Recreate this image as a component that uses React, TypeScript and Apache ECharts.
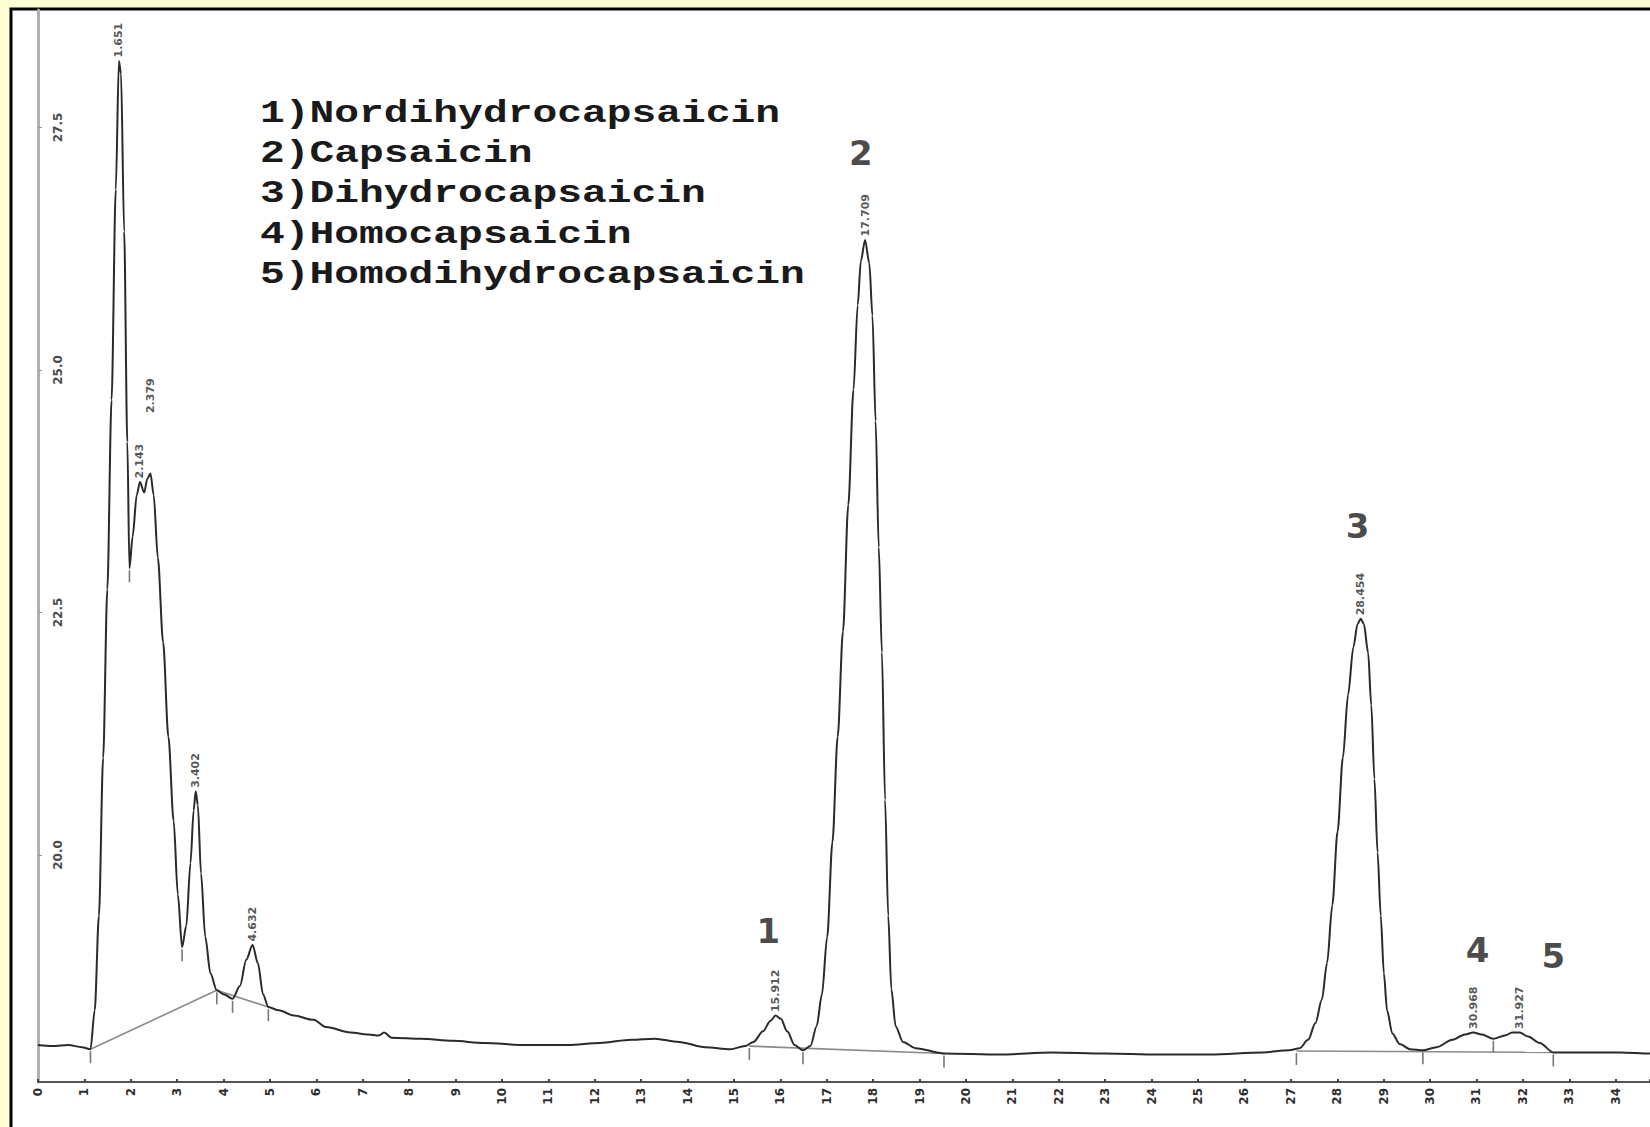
import React, { useEffect, useRef } from "react";
import * as echarts from "echarts";

// Chromatogram trace: retention time (min) and detector signal
const traceTimes = [
  0.0, 0.315, 0.655, 0.95, 1.131, 1.222, 1.313, 1.404, 1.494, 1.585, 1.676, 1.744, 1.789, 1.857, 1.925, 1.971,
  2.039, 2.129, 2.197, 2.288, 2.356, 2.424, 2.492, 2.583, 2.696, 2.81, 2.923, 3.014, 3.105, 3.195, 3.286, 3.354,
  3.399, 3.445, 3.513, 3.604, 3.717, 3.853, 4.012, 4.193, 4.352, 4.488, 4.624, 4.738, 4.851, 4.964, 5.191, 5.509,
  5.94, 6.212, 6.733, 7.119, 7.346, 7.459, 7.618, 8.253, 8.933, 9.614, 10.521, 11.428, 12.109, 12.789, 13.288,
  13.81, 14.377, 14.921, 15.238, 15.42, 15.624, 15.783, 15.896, 16.01, 16.146, 16.305, 16.486, 16.645, 16.781,
  16.894, 17.008, 17.121, 17.234, 17.348, 17.462, 17.575, 17.665, 17.733, 17.824, 17.915, 17.983, 18.051, 18.119,
  18.187, 18.255, 18.323, 18.391, 18.482, 18.64, 18.913, 19.525, 20.727, 21.861, 22.995, 24.129, 25.263, 26.397,
  26.964, 27.191, 27.372, 27.531, 27.667, 27.781, 27.894, 28.007, 28.121, 28.234, 28.347, 28.438, 28.506, 28.574,
  28.665, 28.733, 28.801, 28.869, 28.937, 29.005, 29.073, 29.187, 29.345, 29.572, 29.845, 30.139, 30.479, 30.753,
  30.933, 31.114, 31.364, 31.613, 31.772, 31.93, 32.112, 32.362, 32.656, 33.314, 34.108, 34.743, 35.2,
];
const traceSignal = [
  18.041, 18.03, 18.041, 18.019, 17.998, 18.399, 19.375, 21.003, 22.739, 24.691, 26.861, 28.185, 28.055, 26.427,
  24.257, 22.956, 23.281, 23.715, 23.845, 23.737, 23.878, 23.932, 23.715, 23.064, 22.196, 21.22, 20.352, 19.592,
  19.05, 19.267, 19.918, 20.46, 20.656, 20.515, 19.809, 19.158, 18.779, 18.605, 18.562, 18.518, 18.649, 18.92,
  19.072, 18.887, 18.562, 18.432, 18.399, 18.345, 18.301, 18.226, 18.171, 18.15, 18.139, 18.171, 18.117, 18.106,
  18.084, 18.063, 18.041, 18.041, 18.063, 18.095, 18.106, 18.073, 18.019, 17.998, 18.03, 18.073, 18.182, 18.29,
  18.345, 18.312, 18.182, 18.041, 17.987, 18.03, 18.236, 18.562, 19.158, 20.135, 21.22, 22.305, 23.607, 24.8,
  25.668, 26.124, 26.34, 26.102, 25.559, 24.474, 23.172, 22.087, 20.569, 19.375, 18.616, 18.236, 18.073, 18.009,
  17.954, 17.943, 17.965, 17.954, 17.943, 17.943, 17.965, 17.987, 18.009, 18.095, 18.269, 18.507, 18.887, 19.484,
  20.243, 21.003, 21.654, 22.142, 22.381, 22.435, 22.381, 22.087, 21.545, 20.786, 20.026, 19.375, 18.779, 18.399,
  18.16, 18.052, 17.998, 17.987, 18.019, 18.095, 18.15, 18.171, 18.15, 18.106, 18.139, 18.171, 18.171, 18.128,
  18.063, 17.965, 17.965, 17.965, 17.954, 17.943,
];

// Retention-time labels at peak apexes
const peakTimes = [1.744, 2.197, 2.424, 3.399, 4.624, 15.896, 17.824, 28.506, 30.933, 31.93];
const peakSignal = [28.185, 23.845, 23.932, 20.656, 19.072, 18.345, 26.34, 22.435, 18.171, 18.171];
const peakLabels = ["1.651", "2.143", "2.379", "3.402", "4.632", "15.912", "17.709", "28.454", "30.968", "31.927"];

// Compound numbers above peaks
const compoundNumbers = ["1", "2", "3", "4", "5"];
const compoundTimes = [15.737, 17.733, 28.438, 31.024, 32.656];
const compoundSignal = [19.213, 27.24, 23.39, 19.017, 18.963];

// Legend lines
const compoundNames = [
  "1)Nordihydrocapsaicin",
  "2)Capsaicin",
  "3)Dihydrocapsaicin",
  "4)Homocapsaicin",
  "5)Homodihydrocapsaicin",
];

// Integration event marks
const eventTimes = [1.131, 1.971, 3.105, 3.853, 4.193, 4.964, 15.33, 16.486, 19.525, 27.12, 29.845, 31.364, 32.656];
const eventSignal = [17.998, 22.956, 19.05, 18.605, 18.518, 18.432, 18.03, 17.987, 17.954, 17.98, 17.987, 18.106, 17.965];

// Integration baselines (start/end time and signal)
const baselineStartTimes = [1.131, 3.853, 15.33, 27.12];
const baselineStartSignal = [17.998, 18.605, 18.03, 17.98];
const baselineEndTimes = [3.853, 4.964, 19.525, 32.656];
const baselineEndSignal = [18.605, 18.432, 17.954, 17.965];

// Axes
const xMin = 0;
const xMax = 34.74;
const yMin = 17.66;
const yMax = 28.711;
const yTickValues = [20, 22.5, 25, 27.5];

export default function App() {
  const ref = useRef<HTMLDivElement>(null);

  useEffect(() => {
    if (!ref.current) return;
    const chart = echarts.init(ref.current, undefined, { renderer: "svg" });

    const trace = traceTimes.map((t, i) => [t, traceSignal[i]]);
    const peaks = peakTimes.map((t, i) => ({
      name: peakLabels[i],
      value: [t, peakSignal[i]],
      label: peakLabels[i] === "2.379" ? { distance: 60 } : undefined,
    }));
    const numbers = compoundNumbers.map((n, i) => ({ name: n, value: [compoundTimes[i], compoundSignal[i]] }));
    const events = eventTimes.map((t, i) => [t, eventSignal[i]]);

    const baselineSeries = baselineStartTimes.map((t, i) => ({
      type: "line",
      data: [
        [t, baselineStartSignal[i]],
        [baselineEndTimes[i], baselineEndSignal[i]],
      ],
      symbol: "none",
      lineStyle: { color: "#8a8a8a", width: 1.6 },
      z: 1,
      silent: true,
    }));

    const legendTexts = compoundNames.map((name, i) => ({
      type: "text",
      x: 260,
      y: 113 + i * 40.3,
      scaleX: 1.29,
      z: 50,
      style: {
        text: name,
        fontFamily: "'Liberation Mono', 'DejaVu Sans Mono', monospace",
        fontWeight: "bold",
        fontSize: 32,
        fill: "#1a1a1a",
        align: "left",
        verticalAlign: "middle",
      },
    }));

    chart.setOption({
      animation: false,
      backgroundColor: "#ffffd4",
      graphic: [
        {
          type: "rect",
          z: -100,
          silent: true,
          shape: { x: 11, y: 9, width: 1700, height: 1200 },
          style: { fill: "#ffffff", stroke: "#000000", lineWidth: 3 },
        },
        ...legendTexts,
      ],
      grid: { left: 38, right: 0, top: 10, bottom: 45, containLabel: false },
      xAxis: {
        type: "value",
        min: xMin,
        max: xMax,
        interval: 1,
        axisLine: { show: true, onZero: false, lineStyle: { color: "#555", width: 2 } },
        axisTick: { show: true, inside: true, length: 3, lineStyle: { color: "#444", width: 2 } },
        splitLine: { show: false },
        axisLabel: {
          rotate: 90,
          margin: 6,
          fontSize: 12,
          fontWeight: "bold",
          fontFamily: "'DejaVu Sans', sans-serif",
          color: "#2e2e2e",
          formatter: (v: number) => (Number.isInteger(v) ? String(v) : ""),
        },
      },
      yAxis: {
        type: "value",
        min: yMin,
        max: yMax,
        axisLine: { show: true, onZero: false, lineStyle: { color: "#b0b0b0", width: 3 } },
        axisTick: { show: true, inside: true, length: 4, customValues: yTickValues, lineStyle: { color: "#999" } },
        splitLine: { show: false },
        axisLabel: {
          inside: true,
          rotate: 90,
          margin: 14,
          customValues: yTickValues,
          formatter: (v: number) => v.toFixed(1),
          fontSize: 12,
          fontWeight: "bold",
          fontFamily: "'DejaVu Sans', sans-serif",
          color: "#4a4a4a",
          align: "center",
          verticalAlign: "top",
        },
      },
      series: [
        ...baselineSeries,
        {
          type: "line",
          data: trace,
          symbol: "none",
          smooth: 0.3,
          smoothMonotone: "x",
          lineStyle: { color: "#2a2a2a", width: 2 },
          z: 3,
          silent: true,
        },
        {
          type: "custom",
          data: events,
          z: 2,
          silent: true,
          renderItem: (_params: any, api: any) => {
            const p = api.coord([api.value(0), api.value(1)]);
            return {
              type: "line",
              shape: { x1: p[0], y1: p[1] + 2, x2: p[0], y2: p[1] + 14 },
              style: { stroke: "#777", lineWidth: 1.6 },
            };
          },
        },
        {
          type: "scatter",
          data: peaks,
          symbolSize: 1,
          itemStyle: { color: "rgba(0,0,0,0)" },
          z: 4,
          silent: true,
          label: {
            show: true,
            position: "top",
            distance: 3,
            rotate: 90,
            align: "left",
            verticalAlign: "middle",
            formatter: (p: any) => p.name,
            fontSize: 11,
            fontWeight: "bold",
            fontFamily: "'DejaVu Sans', sans-serif",
            color: "#2a2a2a",
          },
        },
        {
          type: "scatter",
          data: numbers,
          symbolSize: 1,
          itemStyle: { color: "rgba(0,0,0,0)" },
          z: 4,
          silent: true,
          label: {
            show: true,
            position: "inside",
            formatter: (p: any) => p.name,
            fontSize: 34,
            fontWeight: "bold",
            fontFamily: "'DejaVu Sans', sans-serif",
            color: "#1a1a1a",
          },
        },
      ],
    });

    return () => chart.dispose();
  }, []);

  return (
    <div
      ref={ref}
      style={{ position: "fixed", left: 0, top: 0, width: 1650, height: 1127 }}
    />
  );
}
